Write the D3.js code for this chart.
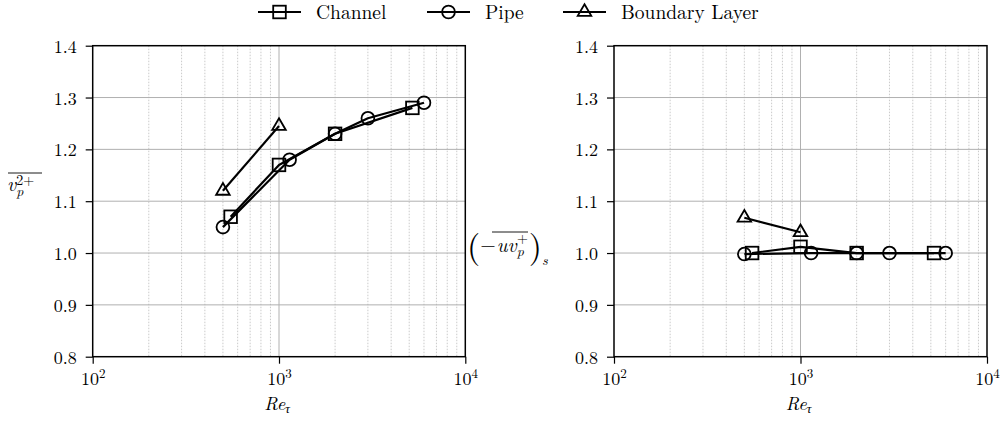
<!DOCTYPE html>
<html>
<head>
<meta charset="utf-8">
<script src="https://cdn.jsdelivr.net/npm/d3@7"></script>
<style>
  html, body { margin: 0; padding: 0; background: #fff; }
  svg { display: block; }
</style>
</head>
<body>
<svg id="chart" width="1003" height="422"></svg>
<script>
// Friction Reynolds numbers of each data set
const reChannel = [550, 1000, 2000, 5200];
const rePipe = [500, 1140, 2000, 3000, 6000];
const reBL = [500, 1000];

// Peak of wall-normal pressure-velocity variance (left panel)
const vpChannel = [1.07, 1.17, 1.23, 1.28];
const vpPipe = [1.05, 1.18, 1.23, 1.26, 1.29];
const vpBL = [1.12, 1.245];

// Scaled shear stress contribution (right panel)
const uvChannel = [1.0, 1.012, 1.0, 1.0];
const uvPipe = [0.998, 1.0, 1.0, 1.0, 1.0];
const uvBL = [1.068, 1.04];

const seriesNames = ["Channel", "Pipe", "Boundary Layer"];
const seriesMarkers = ["square", "circle", "triangle"];
const yTicks = [0.8, 0.9, 1.0, 1.1, 1.2, 1.3, 1.4];
const xMajorTicks = [100, 1000, 10000];
const xExponents = [2, 3, 4];

const FONT = "'Latin Modern Roman', 'Liberation Serif', serif";
const svg = d3.select("#chart").style("font-family", FONT);

function txt(sel) {
  return sel.append("text").style("font-family", FONT).attr("fill", "#000");
}

const panelTop = 45.7, panelBottom = 356.7;
const panels = [
  { x0: 92.7, x1: 465.3, values: [vpChannel, vpPipe, vpBL] },
  { x0: 614, x1: 987, values: [uvChannel, uvPipe, uvBL] }
];
const reData = [reChannel, rePipe, reBL];

function drawMarker(g, kind, cx, cy) {
  const s = 6.3;
  if (kind === "square") {
    g.append("rect").attr("x", cx - s).attr("y", cy - s)
      .attr("width", 2 * s).attr("height", 2 * s);
  } else if (kind === "circle") {
    g.append("circle").attr("cx", cx).attr("cy", cy).attr("r", 6.4);
  } else {
    const r = 7.8;
    const pts = [[cx, cy - r], [cx + r * 0.87, cy + r * 0.5], [cx - r * 0.87, cy + r * 0.5]];
    g.append("polygon").attr("points", pts.map(p => p.join(",")).join(" "));
  }
}

panels.forEach(p => {
  const x = d3.scaleLog().domain([100, 10000]).range([p.x0, p.x1]);
  const y = d3.scaleLinear().domain([0.8, 1.4]).range([panelBottom, panelTop]);
  const g = svg.append("g");

  // minor vertical grid
  const minor = [];
  [100, 1000].forEach(d => { for (let k = 2; k <= 9; k++) minor.push(d * k); });
  g.append("g").selectAll("line").data(minor).join("line")
    .attr("x1", d => x(d)).attr("x2", d => x(d))
    .attr("y1", panelTop).attr("y2", panelBottom)
    .attr("stroke", "#bdbdbd").attr("stroke-width", 0.8)
    .attr("stroke-dasharray", "1.5,1.5");

  // major grid
  g.append("g").selectAll("line").data([1000]).join("line")
    .attr("x1", d => x(d)).attr("x2", d => x(d))
    .attr("y1", panelTop).attr("y2", panelBottom)
    .attr("stroke", "#b0b0b0").attr("stroke-width", 1);
  g.append("g").selectAll("line").data(yTicks.slice(1, -1)).join("line")
    .attr("x1", p.x0).attr("x2", p.x1)
    .attr("y1", d => y(d)).attr("y2", d => y(d))
    .attr("stroke", "#b0b0b0").attr("stroke-width", 1);

  // y axis
  const yAxis = d3.axisLeft(y).tickValues(yTicks).tickFormat(d3.format(".1f"))
    .tickSize(7).tickPadding(9);
  const ya = g.append("g").attr("transform", `translate(${p.x0},0)`).call(yAxis);
  ya.attr("font-family", null).attr("font-size", null);
  ya.select(".domain").remove();
  ya.selectAll(".tick line").attr("stroke", "#000").attr("stroke-width", 1.2);
  ya.selectAll(".tick text").attr("font-size", 18).style("font-family", FONT)
    .attr("dy", "0.36em");

  // x axis
  const xAxis = d3.axisBottom(x).tickValues(xMajorTicks).tickFormat("").tickSize(7);
  const xa = g.append("g").attr("transform", `translate(0,${panelBottom})`).call(xAxis);
  xa.attr("font-family", null).attr("font-size", null);
  xa.select(".domain").remove();
  xa.selectAll(".tick line").attr("stroke", "#000").attr("stroke-width", 1.2);
  xa.selectAll(".tick").each(function(d, i) {
    const t = txt(d3.select(this)).attr("x", 0).attr("y", 28.5)
      .attr("text-anchor", "middle").attr("font-size", 18);
    t.append("tspan").text("10");
    t.append("tspan").attr("dy", -7).attr("font-size", 13).text(xExponents[i]);
  });

  // frame
  g.append("rect").attr("x", p.x0).attr("y", panelTop)
    .attr("width", p.x1 - p.x0).attr("height", panelBottom - panelTop)
    .attr("fill", "none").attr("stroke", "#000").attr("stroke-width", 1.5);

  // x label
  const xl = txt(g).attr("x", (p.x0 + p.x1) / 2 - 2).attr("y", 410)
    .attr("text-anchor", "middle").attr("font-size", 18.5);
  xl.append("tspan").attr("font-style", "italic").text("Re");
  xl.append("tspan").attr("font-style", "italic").attr("font-size", 13).attr("dy", 3).text("τ");

  // series
  p.values.forEach((vals, si) => {
    const pts = vals.map((v, i) => [x(reData[si][i]), y(v)]);
    const sg = g.append("g");
    sg.append("path").attr("d", d3.line()(pts))
      .attr("fill", "none").attr("stroke", "#000").attr("stroke-width", 2.2)
      .attr("stroke-linejoin", "round");
    const mg = sg.append("g").attr("fill", "none").attr("stroke", "#000").attr("stroke-width", 1.8);
    pts.forEach(pt => drawMarker(mg, seriesMarkers[si], pt[0], pt[1]));
  });
});

// left y label: overline v_p^{2+}
const yl1 = svg.append("g");
const t1 = txt(yl1).attr("x", 7).attr("y", 190.5).attr("font-size", 20);
t1.append("tspan").attr("font-style", "italic").text("v");
t1.append("tspan").attr("font-style", "italic").attr("font-size", 14).attr("dy", 5).text("p");
t1.append("tspan").attr("font-size", 14).attr("dy", -11).attr("dx", -7).text("2+");
yl1.append("line").attr("x1", 8).attr("x2", 42).attr("y1", 173).attr("y2", 173)
  .attr("stroke", "#000").attr("stroke-width", 0.9);

// right y label: (-overline{uv_p^+})_s, set as a single text run
const yl2 = svg.append("g");
const t2 = txt(yl2).attr("x", 467).attr("y", 258).attr("font-size", 20);
t2.append("tspan").attr("font-size", 34).text("(");
t2.append("tspan").attr("dy", -6).text("−");
t2.append("tspan").attr("font-style", "italic").attr("dx", 1).text("uv");
t2.append("tspan").attr("font-style", "italic").attr("font-size", 14).attr("dy", 4).text("p");
t2.append("tspan").attr("font-size", 14).attr("dy", -13).attr("dx", -7).text("+");
t2.append("tspan").attr("font-size", 34).attr("dy", 15).attr("dx", 1).text(")");
t2.append("tspan").attr("font-style", "italic").attr("font-size", 14).attr("dy", 7).text("s");
yl2.append("line").attr("x1", 492).attr("x2", 528).attr("y1", 232).attr("y2", 232)
  .attr("stroke", "#000").attr("stroke-width", 0.9);

// legend
const legendX = [258, 427, 563];
const lg = svg.append("g");
seriesNames.forEach((name, i) => {
  const gx = legendX[i], gy = 12;
  lg.append("line").attr("x1", gx).attr("x2", gx + 43).attr("y1", gy).attr("y2", gy)
    .attr("stroke", "#000").attr("stroke-width", 2.2);
  const mg = lg.append("g").attr("fill", "none").attr("stroke", "#000").attr("stroke-width", 1.8);
  drawMarker(mg, seriesMarkers[i], gx + 21.5, gy);
  txt(lg).attr("x", gx + 58).attr("y", gy + 7).attr("font-size", 19.5).text(name);
});
</script>
</body>
</html>
